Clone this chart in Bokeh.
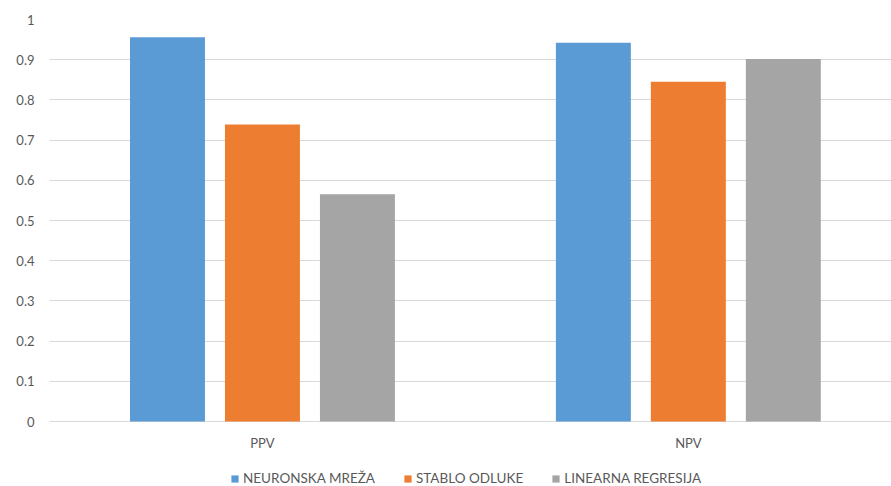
from bokeh.plotting import figure
from bokeh.models import Range1d, FixedTicker, Legend, LegendItem, ColumnDataSource
from bokeh.transform import dodge
from bokeh.embed import file_html
from bokeh.resources import INLINE

# Chart data
categories = ["PPV", "NPV"]
series_names = ["NEURONSKA MREŽA", "STABLO ODLUKE", "LINEARNA REGRESIJA"]
neuronska_mreza = [0.956, 0.942]
stablo_odluke = [0.739, 0.845]
linearna_regresija = [0.565, 0.902]
y_tick_values = [0, 0.1, 0.2, 0.3, 0.4, 0.5, 0.6, 0.7, 0.8, 0.9, 1]
y_tick_labels = ["0", "0.1", "0.2", "0.3", "0.4", "0.5", "0.6", "0.7", "0.8", "0.9", "1"]

colors = ["#5B9BD5", "#ED7D31", "#A5A5A5"]
text_color = "#595959"
grid_color = "#D9D9D9"
font = "Lato"

# Layout: value axis spans 402 px; the frame extends below zero to hold the
# category labels and the legend.
plot_px = 402
below_px = 65
x_centers = [i + 0.5 for i in range(len(categories))]
source = ColumnDataSource(dict(
    x=x_centers,
    label=categories,
    zero=[0] * len(categories),
    neuronska=neuronska_mreza,
    stablo=stablo_odluke,
    linearna=linearna_regresija,
))

p = figure(
    width=891, height=486,
    x_range=Range1d(0, 1.977), y_range=Range1d(-below_px / plot_px, 1),
    output_backend="svg", toolbar_location=None,
    min_border_left=49, min_border_right=0, min_border_top=19, min_border_bottom=0,
)
p.outline_line_color = None
p.background_fill_color = "white"
p.border_fill_color = "white"

bar_w = 0.176
offsets = [-0.223, 0.0, 0.223]
fields = ["neuronska", "stablo", "linearna"]
renderers = []
for field, off, col in zip(fields, offsets, colors):
    r = p.vbar(x=dodge("x", off), top=field, width=bar_w, bottom=0,
               source=source, fill_color=col, line_color=None)
    renderers.append(r)

# Category labels under the zero line
p.text(x="x", y="zero", text="label", source=source, y_offset=21,
       text_align="center", text_baseline="middle",
       text_font={"value": font}, text_font_size="13px", text_color=text_color)

p.xaxis.visible = False

p.yaxis.ticker = FixedTicker(ticks=y_tick_values)
p.yaxis.major_label_overrides = {v: s for v, s in zip(y_tick_values, y_tick_labels)}
p.yaxis.axis_line_color = None
p.yaxis.major_tick_line_color = None
p.yaxis.minor_tick_line_color = None
p.yaxis.major_tick_out = 0
p.yaxis.major_tick_in = 0
p.yaxis.major_label_standoff = 15
p.yaxis.major_label_text_font = font
p.yaxis.major_label_text_font_size = "13px"
p.yaxis.major_label_text_color = text_color

p.xgrid.grid_line_color = None
p.ygrid.ticker = FixedTicker(ticks=y_tick_values)
p.ygrid.grid_line_color = grid_color
p.ygrid.grid_line_width = 1

legend = Legend(
    items=[LegendItem(label=n, renderers=[r]) for n, r in zip(series_names, renderers)],
    orientation="horizontal", location=(181, 0),
    border_line_color=None, background_fill_alpha=0,
    label_text_font=font, label_text_font_size="13.5px", label_text_color=text_color,
    glyph_width=9, glyph_height=9, label_standoff=4, spacing=28,
    padding=0, margin=0,
)
p.add_layout(legend, "center")

open("out.html", "w").write(file_html(p, INLINE))
